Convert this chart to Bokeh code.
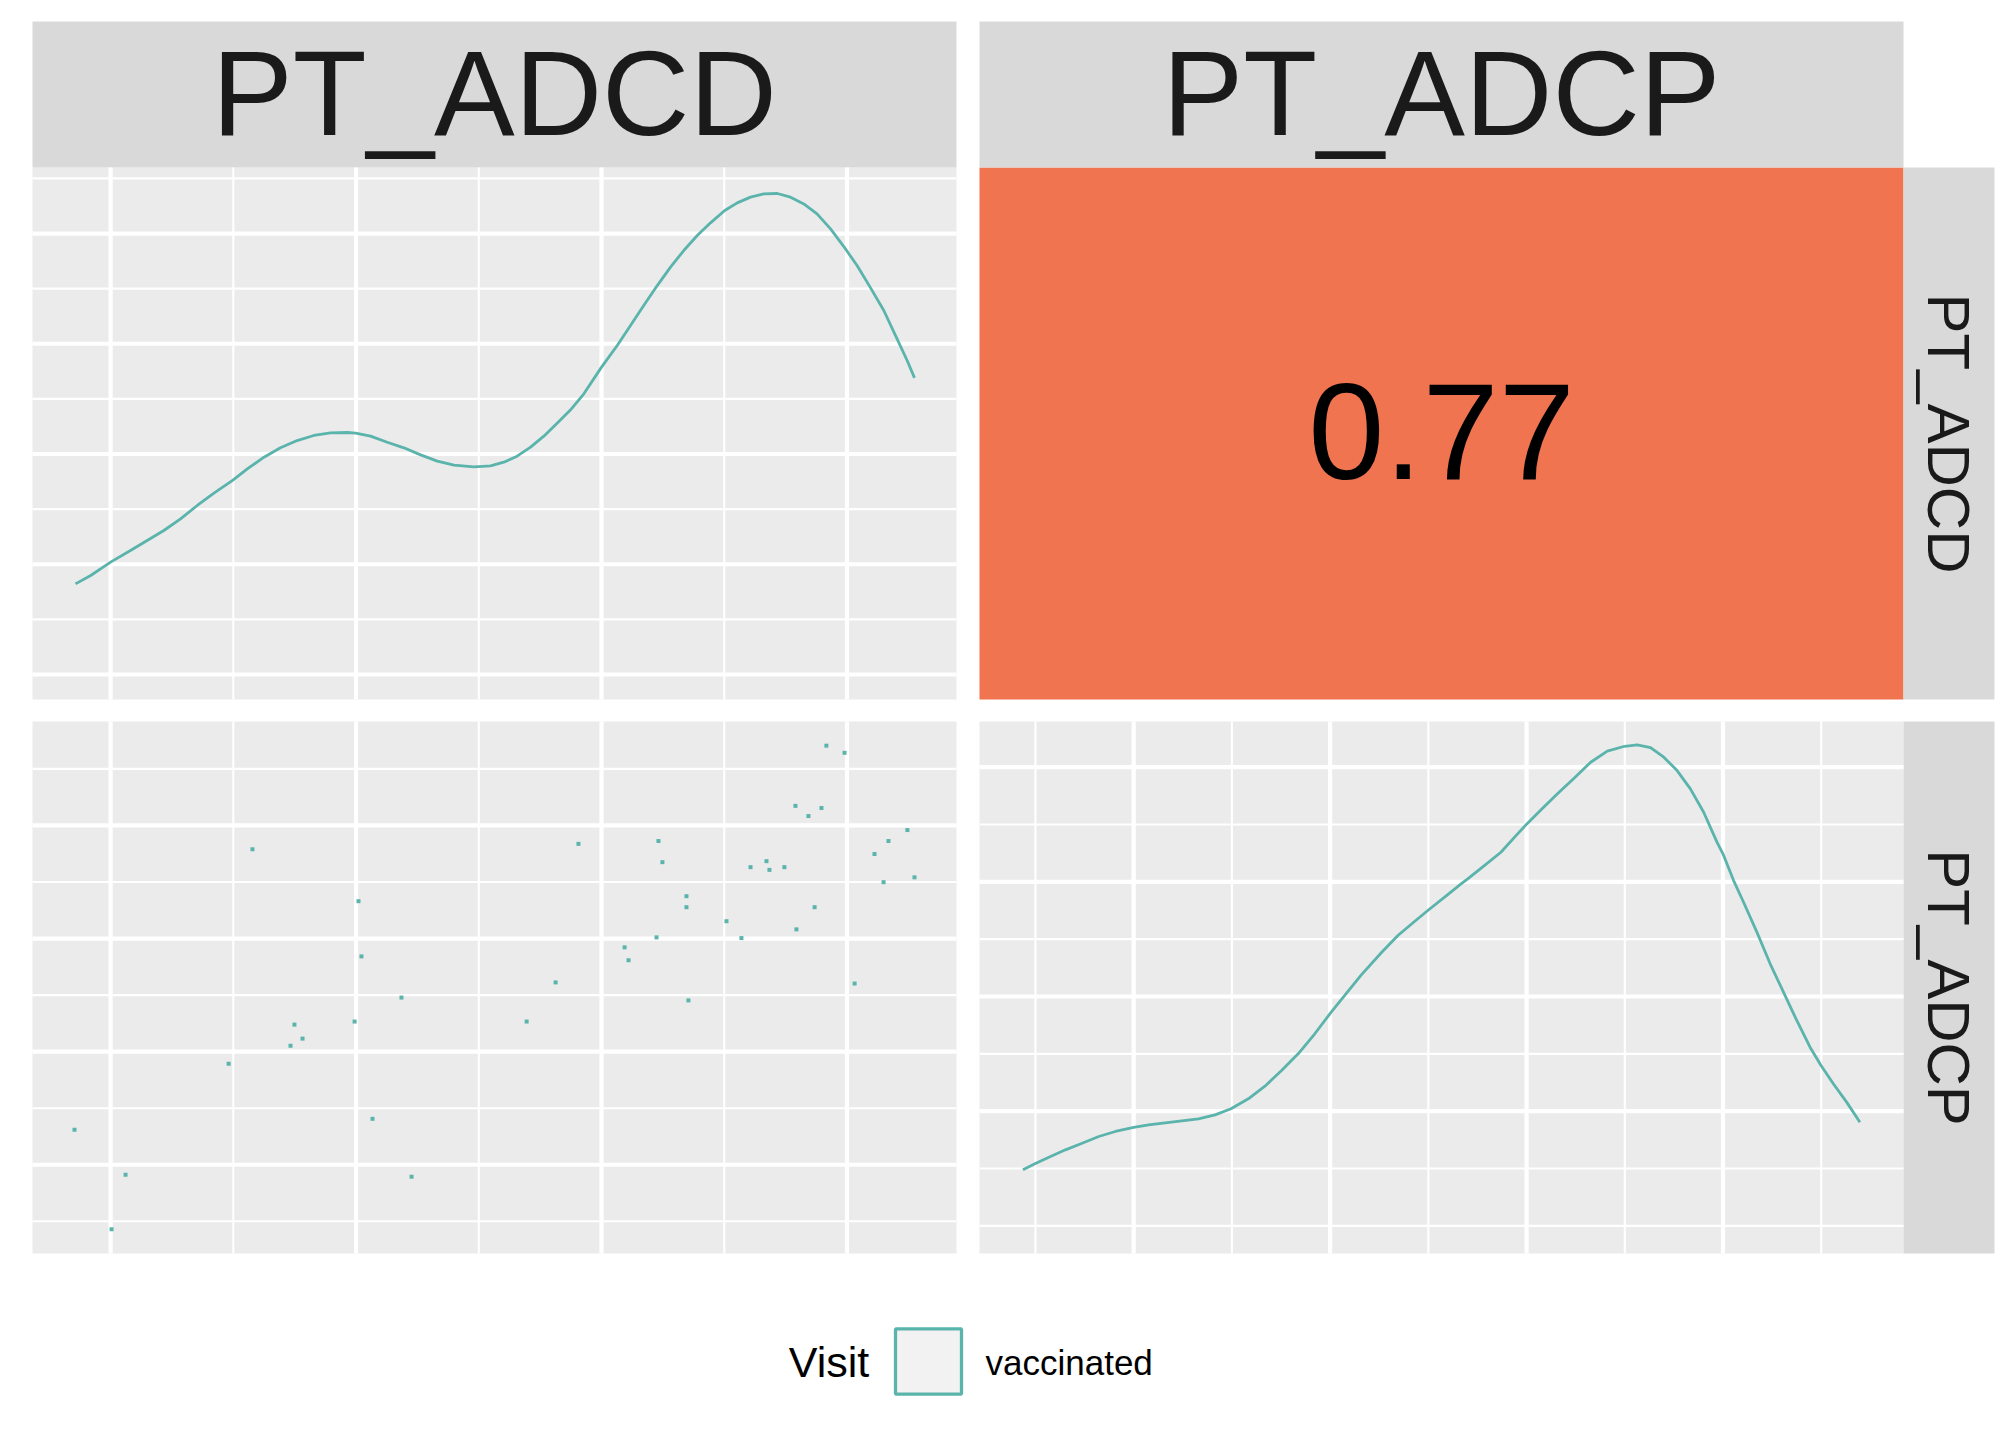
import numpy as np
from bokeh.plotting import figure
from bokeh.models import Range1d
from bokeh.core.properties import value
from bokeh.embed import file_html
from bokeh.resources import INLINE

# ---------------- data ----------------
VARIABLES = ["PT_ADCD", "PT_ADCP"]
LEGEND_TITLE = "Visit"
VISIT_LEVELS = ["vaccinated"]

PT_ADCD = [2.578, 3.010, 3.022, 3.185, 2.994, 2.749, 2.782, 2.733, 2.481, 1.853,
           3.067, 2.061, 3.226, 2.004, 4.916, 4.990, 4.790, 4.896, 4.843, 5.246,
           3.906, 4.232, 5.169, 4.248, 5.112, 4.672, 4.607, 4.684, 4.745, 5.275,
           5.149, 4.346, 4.346, 4.868, 4.509, 4.794, 4.224, 4.570, 4.094, 4.110,
           3.813, 5.031, 4.354, 3.695]
PT_ADCP = [4.790, 4.330, 3.842, 3.478, 3.266, 3.239, 3.115, 3.052, 2.893, 2.309,
           2.406, 1.912, 1.894, 1.429, 5.705, 5.642, 5.173, 5.154, 5.083, 4.959,
           4.837, 4.862, 4.862, 4.675, 4.747, 4.684, 4.631, 4.607, 4.631, 4.541,
           4.498, 4.374, 4.277, 4.277, 4.153, 4.081, 4.010, 4.004, 3.922, 3.808,
           3.612, 3.602, 3.453, 3.266]

ADCD_DENS_X = [1.857, 1.919, 2.000, 2.081, 2.149, 2.217, 2.285, 2.353, 2.421, 2.497,
               2.557, 2.625, 2.692, 2.760, 2.828, 2.896, 2.964, 2.998, 3.059, 3.127,
               3.195, 3.263, 3.331, 3.399, 3.480, 3.548, 3.602, 3.629, 3.656, 3.711,
               3.765, 3.819, 3.874, 3.928, 4.000, 4.064, 4.118, 4.172, 4.227, 4.281,
               4.335, 4.390, 4.444, 4.502, 4.553, 4.607, 4.661, 4.716, 4.770, 4.824,
               4.878, 4.933, 4.987, 5.041, 5.096, 5.150, 5.204, 5.245, 5.275]
ADCD_DENS_Y = [0.1822, 0.1898, 0.2019, 0.2125, 0.2215, 0.2306, 0.2412, 0.2533, 0.2645, 0.2760,
               0.2865, 0.2971, 0.3056, 0.3122, 0.3168, 0.3192, 0.3195, 0.3189, 0.3162, 0.3107,
               0.3056, 0.2992, 0.2935, 0.2899, 0.2884, 0.2893, 0.2926, 0.2953, 0.2980, 0.3062,
               0.3162, 0.3280, 0.3401, 0.3546, 0.3788, 0.3984, 0.4166, 0.4347, 0.4528, 0.4695,
               0.4846, 0.4982, 0.5097, 0.5209, 0.5278, 0.5330, 0.5360, 0.5363, 0.5330, 0.5269,
               0.5178, 0.5042, 0.4882, 0.4710, 0.4507, 0.4302, 0.4045, 0.3848, 0.3691]

ADCP_DENS_X = [1.4364, 1.4973, 1.5684, 1.6529, 1.7376, 1.8222, 1.9067, 2.0000, 2.0760, 2.1606,
               2.2452, 2.3298, 2.4144, 2.4956, 2.5836, 2.6682, 2.7528, 2.8374, 2.9220, 3.0015,
               3.0743, 3.1589, 3.2604, 3.3450, 3.4296, 3.4973, 3.5988, 3.6665, 3.7004, 3.7849,
               3.8695, 3.9542, 4.0015, 4.0726, 4.1572, 4.2418, 4.3264, 4.4110, 4.4990, 4.5633,
               4.6310, 4.6986, 4.7663, 4.8340, 4.9016, 4.9693, 4.9998, 5.0540, 5.1047, 5.1724,
               5.2401, 5.3078, 5.3755, 5.4431, 5.4990, 5.5616, 5.6293, 5.6970]
ADCP_DENS_Y = [0.0489, 0.0541, 0.0599, 0.0663, 0.0721, 0.0779, 0.0823, 0.0858, 0.0881, 0.0899,
               0.0916, 0.0933, 0.0968, 0.1021, 0.1108, 0.1218, 0.1355, 0.1500, 0.1675, 0.1855,
               0.2009, 0.2189, 0.2381, 0.2532, 0.2654, 0.2750, 0.2889, 0.2982, 0.3026, 0.3142,
               0.3258, 0.3418, 0.3505, 0.3627, 0.3767, 0.3903, 0.4043, 0.4139, 0.4182, 0.4194,
               0.4171, 0.4087, 0.3970, 0.3811, 0.3607, 0.3346, 0.3244, 0.3011, 0.2822, 0.2561,
               0.2285, 0.2038, 0.1791, 0.1558, 0.1398, 0.1239, 0.1079, 0.0904]

CORR_ADCD_ADCP = 0.77

# axis breaks (no labels shown, only grid lines)
ADCD_BREAKS = [2, 3, 4, 5]
ADCD_MINOR = [2.5, 3.5, 4.5]
ADCP_BREAKS = [2, 3, 4, 5]
ADCP_MINOR = [1.5, 2.5, 3.5, 4.5, 5.5]
DENS_ADCD_LIMITS = [0.0773, 0.5599]
DENS_ADCD_BREAKS = [0.1, 0.2, 0.3, 0.4, 0.5]
DENS_ADCD_MINOR = [0.15, 0.25, 0.35, 0.45, 0.55]
DENS_ADCP_LIMITS = [-0.0241, 0.4398]
DENS_ADCP_BREAKS = [0.1, 0.2, 0.3, 0.4]
DENS_ADCP_MINOR = [0.0, 0.05, 0.15, 0.25, 0.35]

# ---------------- style / layout ----------------
TEAL = "#5AB4AC"
CORR_FILL = "#F0744F"
PANEL_BG = "#EBEBEB"
STRIP_BG = "#D9D9D9"
TEXT_COL = "#1A1A1A"
KEY_BG = "#F2F2F2"
FONT = "Liberation Sans"
BASELINE_FIX = 0.385   # renderer draws 'alphabetic' text this many em lower

W, H = 2000, 1424
COLS = [(32, 956), (979, 1903)]      # panel left/right (canvas px)
ROWS = [(167, 699), (721, 1253)]     # panel top/bottom (canvas px)
STRIP_TOP = (21, 167)
STRIP_RIGHT = (1903, 1994)


def expand(v, mult=0.05):
    lo, hi = min(v), max(v)
    d = (hi - lo) * mult
    return lo - d, hi + d


def x_range_for(lim, col):
    L, R = COLS[col]
    lo, hi = lim
    k = (hi - lo) / (R - L)
    return Range1d(start=lo - L * k, end=lo + (W - L) * k)


def y_range_for(lim, row):
    top, bottom = ROWS[row]
    lo, hi = lim
    k = (hi - lo) / (bottom - top)
    return Range1d(start=lo - (H - bottom) * k, end=lo + bottom * k)


adcd_lim = expand(PT_ADCD)
adcp_lim = expand(PT_ADCP)

p = figure(width=W, height=H, x_range=Range1d(0, W), y_range=Range1d(H, 0),
           x_axis_type=None, y_axis_type=None, toolbar_location=None,
           output_backend="svg", min_border=0, outline_line_color=None,
           background_fill_color="white", border_fill_color="white")
p.extra_x_ranges = {"adcd_c0": x_range_for(adcd_lim, 0),
                    "adcp_c1": x_range_for(adcp_lim, 1)}
p.extra_y_ranges = {"dens_r0": y_range_for(DENS_ADCD_LIMITS, 0),
                    "adcp_r1": y_range_for(adcp_lim, 1),
                    "dens_r1": y_range_for(DENS_ADCP_LIMITS, 1)}

# panel backgrounds
p.quad(left=[COLS[0][0], COLS[0][0], COLS[1][0]],
       right=[COLS[0][1], COLS[0][1], COLS[1][1]],
       top=[ROWS[0][0], ROWS[1][0], ROWS[1][0]],
       bottom=[ROWS[0][1], ROWS[1][1], ROWS[1][1]],
       fill_color=PANEL_BG, line_color=None)
# correlation panel
p.quad(left=[COLS[1][0]], right=[COLS[1][1]], top=[ROWS[0][0]], bottom=[ROWS[0][1]],
       fill_color=CORR_FILL, line_color=None)
# strips
p.quad(left=[COLS[0][0], COLS[1][0]], right=[COLS[0][1], COLS[1][1]],
       top=[STRIP_TOP[0]] * 2, bottom=[STRIP_TOP[1]] * 2,
       fill_color=STRIP_BG, line_color=None)
p.quad(left=[STRIP_RIGHT[0]] * 2, right=[STRIP_RIGHT[1]] * 2,
       top=[ROWS[0][0], ROWS[1][0]], bottom=[ROWS[0][1], ROWS[1][1]],
       fill_color=STRIP_BG, line_color=None)


def grid(xmaj, xmin, ymaj, ymin, xlim, ylim, xname, yname):
    for xs, ys, w in ((xmin, ymin, 2.1), (xmaj, ymaj, 4.2)):
        p.segment(x0=xs, x1=xs, y0=[ylim[0]] * len(xs), y1=[ylim[1]] * len(xs),
                  x_range_name=xname, y_range_name=yname,
                  line_color="white", line_width=w)
        p.segment(x0=[xlim[0]] * len(ys), x1=[xlim[1]] * len(ys), y0=ys, y1=ys,
                  x_range_name=xname, y_range_name=yname,
                  line_color="white", line_width=w)


grid(ADCD_BREAKS, ADCD_MINOR, DENS_ADCD_BREAKS, DENS_ADCD_MINOR,
     adcd_lim, DENS_ADCD_LIMITS, "adcd_c0", "dens_r0")
grid(ADCD_BREAKS, ADCD_MINOR, ADCP_BREAKS, ADCP_MINOR,
     adcd_lim, adcp_lim, "adcd_c0", "adcp_r1")
grid(ADCP_BREAKS, ADCP_MINOR, DENS_ADCP_BREAKS, DENS_ADCP_MINOR,
     adcp_lim, DENS_ADCP_LIMITS, "adcp_c1", "dens_r1")

# data
p.line(ADCD_DENS_X, ADCD_DENS_Y, x_range_name="adcd_c0", y_range_name="dens_r0",
       line_color=TEAL, line_width=2.8, line_join="round")
p.scatter(PT_ADCD, PT_ADCP, marker="square", size=4, x_range_name="adcd_c0",
          y_range_name="adcp_r1", fill_color=TEAL, line_color=None)
p.line(ADCP_DENS_X, ADCP_DENS_Y, x_range_name="adcp_c1", y_range_name="dens_r1",
       line_color=TEAL, line_width=2.8, line_join="round")


def txt(xs, ys, labels, size, color, align="center", angle=0.0):
    shift = BASELINE_FIX * size
    if angle == 0.0:
        ys = [y - shift for y in ys]
    else:
        xs = [x + shift for x in xs]
    p.text(x=xs, y=ys, text=labels, angle=angle, text_font=value(FONT),
           text_font_size=f"{size}px", text_align=align,
           text_baseline="alphabetic", text_color=color)


col_centers = [(c[0] + c[1]) / 2 for c in COLS]
row_centers = [(r[0] + r[1]) / 2 for r in ROWS]
txt(col_centers, [139.3, 139.3], VARIABLES, 121, TEXT_COL)
txt([1925, 1925], row_centers, VARIABLES, 60, TEXT_COL, angle=-np.pi / 2)
txt([col_centers[1]], [484], [f"{CORR_ADCD_ADCP:.2f}"], 137, "black")

# legend
txt([788.3], [1378.3], [LEGEND_TITLE], 43, "black", align="left")
p.quad(left=[895], right=[961], top=[1328.4], bottom=[1393.6],
       fill_color=KEY_BG, line_color=TEAL, line_width=3.3)
txt([985], [1375], VISIT_LEVELS, 35, "black", align="left")

open("out.html", "w").write(file_html(p, INLINE))
